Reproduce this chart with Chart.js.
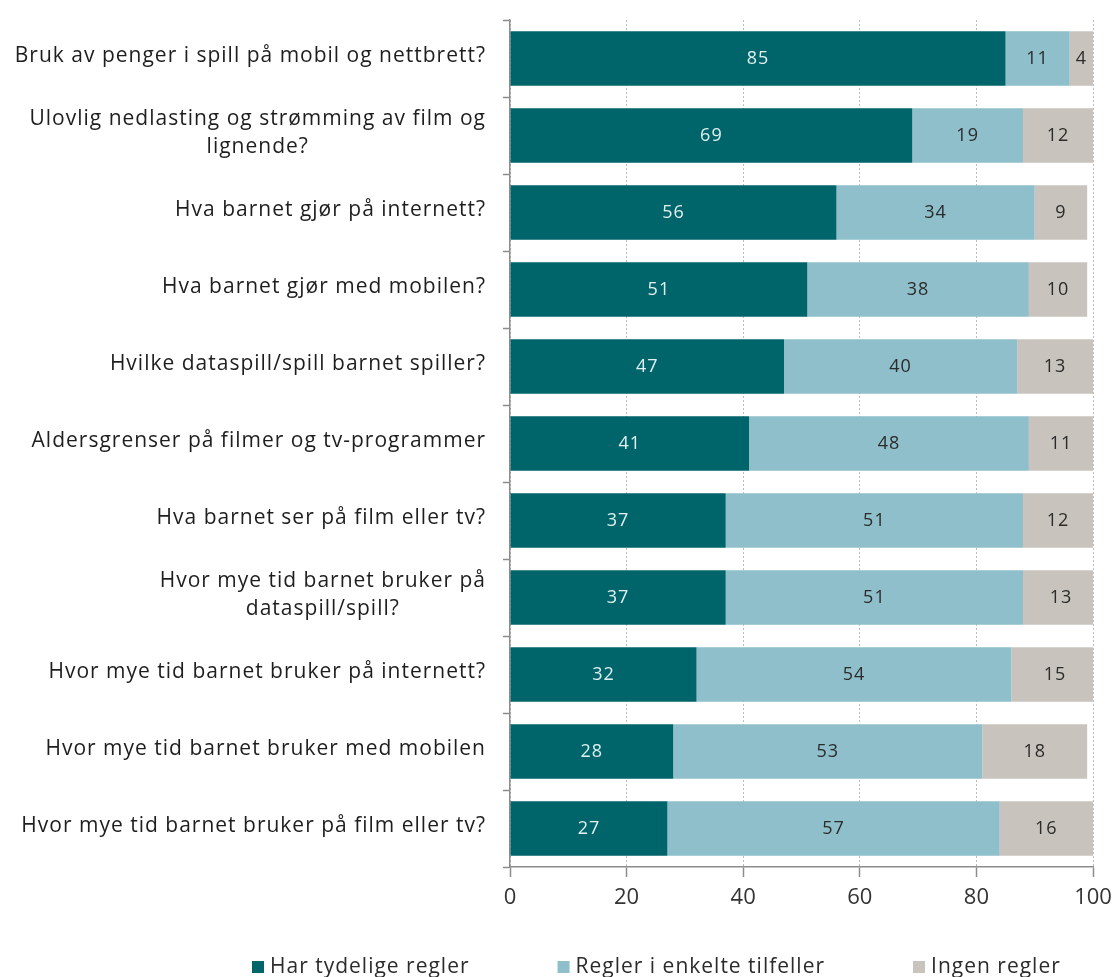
<!DOCTYPE html>
<html>
<head>
<meta charset="utf-8">
<script src="https://cdn.jsdelivr.net/npm/chart.js@4"></script>
<style>
  body { margin: 0; background: #fff; }
  canvas { display: block; }
</style>
</head>
<body>
<canvas id="grafico" width="1120" height="977"></canvas>
<script>
const categories = [
  'Bruk av penger i spill på mobil og nettbrett?',
  ['Ulovlig nedlasting og strømming av film og', 'lignende?'],
  'Hva barnet gjør på internett?',
  'Hva barnet gjør med mobilen?',
  'Hvilke dataspill/spill barnet spiller?',
  'Aldersgrenser på filmer og tv-programmer',
  'Hva barnet ser på film eller tv?',
  ['Hvor mye tid barnet bruker på', 'dataspill/spill?'],
  'Hvor mye tid barnet bruker på internett?',
  'Hvor mye tid barnet bruker med mobilen',
  'Hvor mye tid barnet bruker på film eller tv?'
];
const seriesNames = ['Har tydelige regler', 'Regler i enkelte tilfeller', 'Ingen regler'];
const tydelige = [85, 69, 56, 51, 47, 41, 37, 37, 32, 28, 27];
const enkelte = [11, 19, 34, 38, 40, 48, 51, 51, 54, 53, 57];
const ingen = [4, 12, 9, 10, 13, 11, 12, 13, 15, 18, 16];
const xTicks = [0, 20, 40, 60, 80, 100];

const colors = ['#00656b', '#8fbfcb', '#c8c3bc'];
const labelColors = ['#dff0ef', '#2b2b2b', '#2b2b2b'];
const fontFamily = '"Open Sans", Lato, sans-serif';

// Kategorier tegnes selv (Excel sentrerer linjene under hverandre)
const kategoriEtiketter = {
  id: 'kategoriEtiketter',
  afterDraw(chart) {
    const ctx = chart.ctx;
    const y = chart.scales.y;
    ctx.save();
    ctx.font = '21px ' + fontFamily;
    ctx.letterSpacing = '1px';
    ctx.fillStyle = '#1e1e1e';
    ctx.textBaseline = 'middle';
    ctx.textAlign = 'right';
    categories.forEach((lab, i) => {
      const lines = Array.isArray(lab) ? lab : [lab];
      const w = Math.max(...lines.map(l => ctx.measureText(l).width));
      const cy = y.getPixelForValue(i) - 2;
      const lh = 28;
      lines.forEach((l, k) => {
        const lw = ctx.measureText(l).width;
        ctx.fillText(l, 486 - (w - lw) / 2, cy + (k - (lines.length - 1) / 2) * lh);
      });
    });
    ctx.restore();
  }
};

// Verdier i søylene
const verdiEtiketter = {
  id: 'verdiEtiketter',
  afterDatasetsDraw(chart) {
    const ctx = chart.ctx;
    ctx.save();
    ctx.font = '18px ' + fontFamily;
    ctx.letterSpacing = '1px';
    ctx.textAlign = 'center';
    ctx.textBaseline = 'middle';
    chart.data.datasets.forEach((ds, di) => {
      const meta = chart.getDatasetMeta(di);
      meta.data.forEach((bar, i) => {
        const v = ds.data[i];
        const x = (bar.x + bar.base) / 2;
        ctx.fillStyle = labelColors[di];
        ctx.fillText(String(v), x, bar.y);
      });
    });
    ctx.restore();
  }
};

// Forklaring nederst
const forklaring = {
  id: 'forklaring',
  afterDraw(chart) {
    const ctx = chart.ctx;
    ctx.save();
    ctx.font = '21px ' + fontFamily;
    ctx.letterSpacing = '1px';
    ctx.textBaseline = 'middle';
    ctx.textAlign = 'left';
    let x = 252;
    const yMid = 967;
    seriesNames.forEach((navn, i) => {
      ctx.fillStyle = colors[i];
      ctx.fillRect(x, yMid - 6, 12, 12);
      ctx.fillStyle = '#2b2b2b';
      ctx.fillText(navn, x + 18, yMid);
      x += 18 + ctx.measureText(navn).width + 88;
    });
    ctx.restore();
  }
};

const ctx = document.getElementById('grafico').getContext('2d');
const grafico = new Chart(ctx, {
  type: 'bar',
  data: {
    labels: categories,
    datasets: [
      { label: seriesNames[0], data: tydelige, backgroundColor: colors[0] },
      { label: seriesNames[1], data: enkelte, backgroundColor: colors[1] },
      { label: seriesNames[2], data: ingen, backgroundColor: colors[2] }
    ]
  },
  options: {
    indexAxis: 'y',
    responsive: false,
    animation: false,
    barPercentage: 0.71,
    categoryPercentage: 1,
    layout: { padding: { left: 0, top: 20, right: 27, bottom: 60 } },
    plugins: {
      legend: { display: false },
      tooltip: { enabled: false }
    },
    scales: {
      x: {
        stacked: true,
        min: 0,
        max: 100,
        afterBuildTicks: scale => { scale.ticks = xTicks.map(v => ({ value: v })); },
        afterFit: scale => { scale.height = 50; },
        ticks: {
          font: { family: fontFamily, size: 22 },
          color: '#333',
          padding: 8
        },
        grid: {
          color: '#bdbdbd',
          tickColor: '#8c8c8c',
          tickLength: 10,
          tickWidth: 1.5
        },
        border: { color: '#8c8c8c', width: 1.5, dash: [2, 2] }
      },
      y: {
        stacked: true,
        afterFit: scale => { scale.width = 510; },
        ticks: { display: false },
        grid: {
          offset: true,
          drawOnChartArea: false,
          tickColor: '#8c8c8c',
          tickLength: 7,
          tickWidth: 1.5
        },
        border: { color: '#8c8c8c', width: 1.5 }
      }
    }
  },
  plugins: [kategoriEtiketter, verdiEtiketter, forklaring]
});
</script>
</body>
</html>
